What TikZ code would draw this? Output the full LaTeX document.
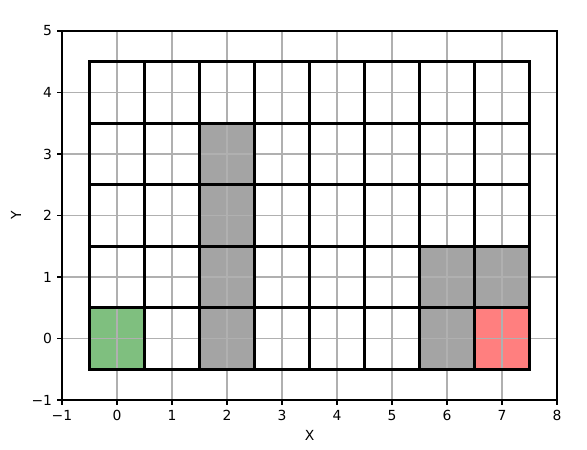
\documentclass[tikz,border=0pt]{standalone}
\usepackage{fontspec}
\setmainfont{DejaVu Sans}
\usepackage{tikz}
\usetikzlibrary{positioning}
\definecolor{okgreen}{RGB}{127,191,127}
\definecolor{endred}{RGB}{255,127,127}
\definecolor{wallgray}{RGB}{164,164,164}
\definecolor{gridgray}{RGB}{176,176,176}
\tikzset{
  cellbox/.style={draw=black, line width=2pt},
  gridln/.style={draw=gridgray, line width=0.8pt},
  spine/.style={draw=black, line width=0.8pt},
  tick/.style={font=\fontsize{10}{12}\selectfont, inner sep=0pt},
  axlbl/.style={font=\fontsize{10}{12}\selectfont, inner sep=0pt},
  gridplot/.style={x=39.6pt, y=44.28pt}
}

\begin{document}
\begin{tikzpicture}[gridplot]
        \useasboundingbox (-2.127,-1.797) rectangle (8.545,5.504);
        % filled cells
        \foreach \cx/\cy in {2/0,2/1,2/2,2/3,6/0,6/1,7/1}
          \fill[wallgray] (\cx-0.5,\cy-0.5) rectangle (\cx+0.5,\cy+0.5);
        \fill[okgreen] (-0.5,-0.5) rectangle (0.5,0.5);
        \fill[endred] (6.5,-0.5) rectangle (7.5,0.5);
        % grid
        \foreach \gx in {0,...,7}
          \draw[gridln] (\gx,-1) -- (\gx,5);
        \foreach \gy in {0,...,4}
          \draw[gridln] (-1,\gy) -- (8,\gy);
        % cell borders
        \foreach \cx in {0,...,7}
          \foreach \cy in {0,...,4}
            \draw[cellbox] (\cx-0.5,\cy-0.5) rectangle (\cx+0.5,\cy+0.5);
        % axes
        \draw[spine] (-1,-1) rectangle (8,5);
        \foreach \tx/\tl in {-1/−1,0/0,1/1,2/2,3/3,4/4,5/5,6/6,7/7,8/8} {
          \draw[spine] (\tx,-1) -- ++(0,-3.5pt);
          \node[tick, anchor=north] (xt\tx) at ([yshift=-7pt]\tx,-1) {\tl};
        }
        \foreach \ty/\tl in {-1/−1,0/0,1/1,2/2,3/3,4/4,5/5} {
          \draw[spine] (-1,\ty) -- ++(-3.5pt,0);
          \node[tick, anchor=east] (yt\ty) at ([xshift=-7pt]-1,\ty) {\tl};
        }
        \node[axlbl] (xlab) at (3.5,-1.569) {X};
        \node[axlbl, rotate=90] (ylab) at (-1.836,2) {Y};
      \end{tikzpicture}
\end{document}
